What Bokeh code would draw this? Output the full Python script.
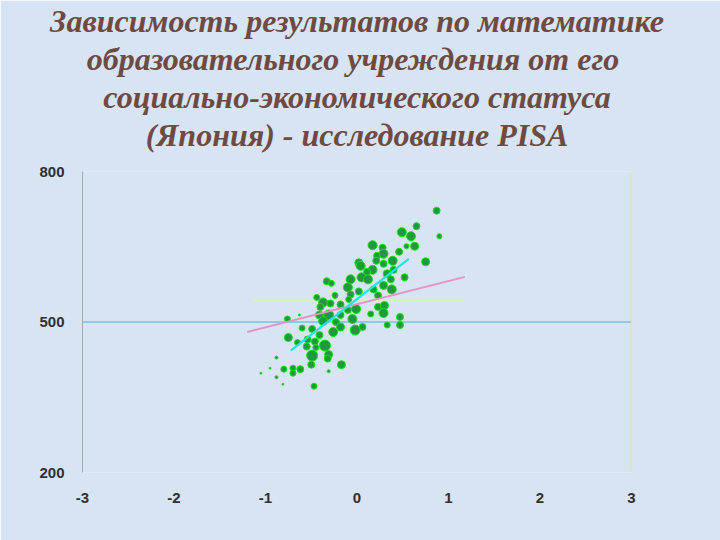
from bokeh.plotting import figure
from bokeh.models import FixedTicker, Title
from bokeh.embed import file_html
from bokeh.resources import INLINE

# --- data ---
title_lines = [
    "Зависимость результатов по математике",
    "образовательного  учреждения от его",
    "социально-экономического статуса",
    "(Япония) - исследование PISA",
]
x_ticks = [-3, -2, -1, 0, 1, 2, 3]
x_tick_labels = ["-3", "-2", "-1", "0", "1", "2", "3"]
y_ticks = [200, 500, 800]

# schools: ESCS index (x), mean maths score (y), marker size
school_x = [0.87, 0.90, 0.65, 0.49, 0.59, 0.63, 0.54, 0.17, 0.28, 0.46,
            0.22, 0.29, 0.39, 0.75, 0.02, 0.04, 0.21, 0.29, 0.17, 0.11,
            0.40, 0.33, -0.07, 0.05, 0.12, 0.37, 0.52, -0.33, -0.28, -0.10,
            0.02, 0.18, 0.29, 0.38, 0.23, -0.07, -0.09, -0.24, -0.44, -0.37,
            -0.29, -0.40, -0.18, -0.01, -0.10, 0.23, 0.30, 0.29, 0.15, -0.41,
            -0.31, -0.18, -0.05, -0.37, -0.23, 0.47, 0.47, 0.33, 0.06, -0.02,
            -0.18, -0.26, -0.49, -0.60, -0.76, -0.41, -0.54, -0.46, -0.75, -0.35,
            -0.65, -0.45, -0.55, -0.31, -0.49, -0.50, -0.32, -0.17, -0.62, -0.70,
            -0.80, -0.70, -0.88, -0.88, -0.47, -0.31, -0.81, -1.05, -0.95, -0.63]
school_y = [722, 671, 691, 679, 671, 651, 651, 653, 648, 640,
            632, 636, 622, 620, 618, 612, 622, 616, 604, 600,
            604, 596, 585, 589, 585, 585, 589, 581, 577, 569,
            561, 565, 573, 565, 553, 555, 545, 553, 549, 539,
            537, 530, 535, 526, 524, 530, 533, 518, 516, 514,
            514, 514, 506, 502, 500, 510, 494, 494, 490, 484,
            490, 480, 486, 488, 506, 474, 465, 461, 469, 453,
            459, 449, 451, 435, 433, 415, 427, 415, 406, 408,
            406, 398, 429, 390, 372, 402, 376, 398, 408, 514]
school_size = [7, 5, 7, 9, 9, 8, 5, 9, 7, 7,
               7, 9, 9, 8, 8, 9, 7, 7, 9, 7,
               7, 8, 9, 9, 9, 7, 7, 7, 6, 9,
               7, 7, 8, 9, 7, 7, 6, 6, 6, 9,
               7, 7, 7, 9, 7, 7, 8, 9, 6, 8,
               10, 7, 9, 9, 7, 7, 7, 6, 7, 10,
               8, 9, 7, 6, 6, 7, 7, 7, 8, 11,
               6, 6, 7, 8, 11, 7, 7, 8, 7, 6,
               6, 6, 3, 3, 6, 3, 2, 2, 2, 2]

# regression / reference lines
between_x = [-1.20, 1.18]      # pink
between_y = [480, 590]
within_x = [-0.725, 0.566]     # cyan
within_y = [443, 626]
mean_x = [-1.16, 1.17]         # pale green
mean_y = [543, 543]
oecd_x = [-3, 3]               # horizontal at 500
oecd_y = [500, 500]
right_x = [3, 3]               # yellow vertical
right_y = [200, 800]

BG = "#d6e4f4"

p = figure(width=720, height=540, x_range=(-3, 3), y_range=(200, 800),
           output_backend="svg", toolbar_location=None,
           min_border_left=82, min_border_right=89,
           min_border_top=167, min_border_bottom=68)
p.background_fill_color = BG
p.border_fill_color = BG
p.outline_line_color = None
p.grid.visible = False

# spacer between title and plot area
p.add_layout(Title(text=" ", text_font_size="16px", standoff=0), "above")
# title lines: added from the bottom line upwards
for line in reversed(title_lines):
    p.add_layout(Title(text=line, align="center",
                       text_font="Liberation Serif", text_font_style="bold italic",
                       text_font_size="32px", text_color="#6e4a42",
                       offset=-8, standoff=0), "above")

p.xaxis.ticker = FixedTicker(ticks=x_ticks)
p.xaxis.major_label_overrides = dict(zip(x_ticks, x_tick_labels))
p.yaxis.ticker = FixedTicker(ticks=y_ticks)
for ax in (p.xaxis, p.yaxis):
    ax.major_tick_line_color = None
    ax.minor_tick_line_color = None
    ax.major_label_text_font = "Liberation Sans"
    ax.major_label_text_font_style = "bold"
    ax.major_label_text_font_size = "15px"
    ax.major_label_text_color = "#303030"
p.xaxis.axis_line_color = None
p.xaxis.major_label_standoff = 14
p.yaxis.axis_line_color = "#a8a8a8"
p.yaxis.major_label_standoff = 12

p.line(oecd_x, oecd_y, line_color="#3fb4d4", line_width=1.2)
p.line(right_x, right_y, line_color="#e2ee3c", line_width=1.6)
p.line(mean_x, mean_y, line_color="#d6f2c4", line_width=1.6)

p.scatter(school_x, school_y, size=school_size, marker="circle",
          fill_color="#1e9a3c", line_color="#16e016", line_width=1)

p.line(between_x, between_y, line_color="#e892c4", line_width=2)
p.line(within_x, within_y, line_color="#22e4e4", line_width=2.2)

open("out.html", "w").write(file_html(p, INLINE))
